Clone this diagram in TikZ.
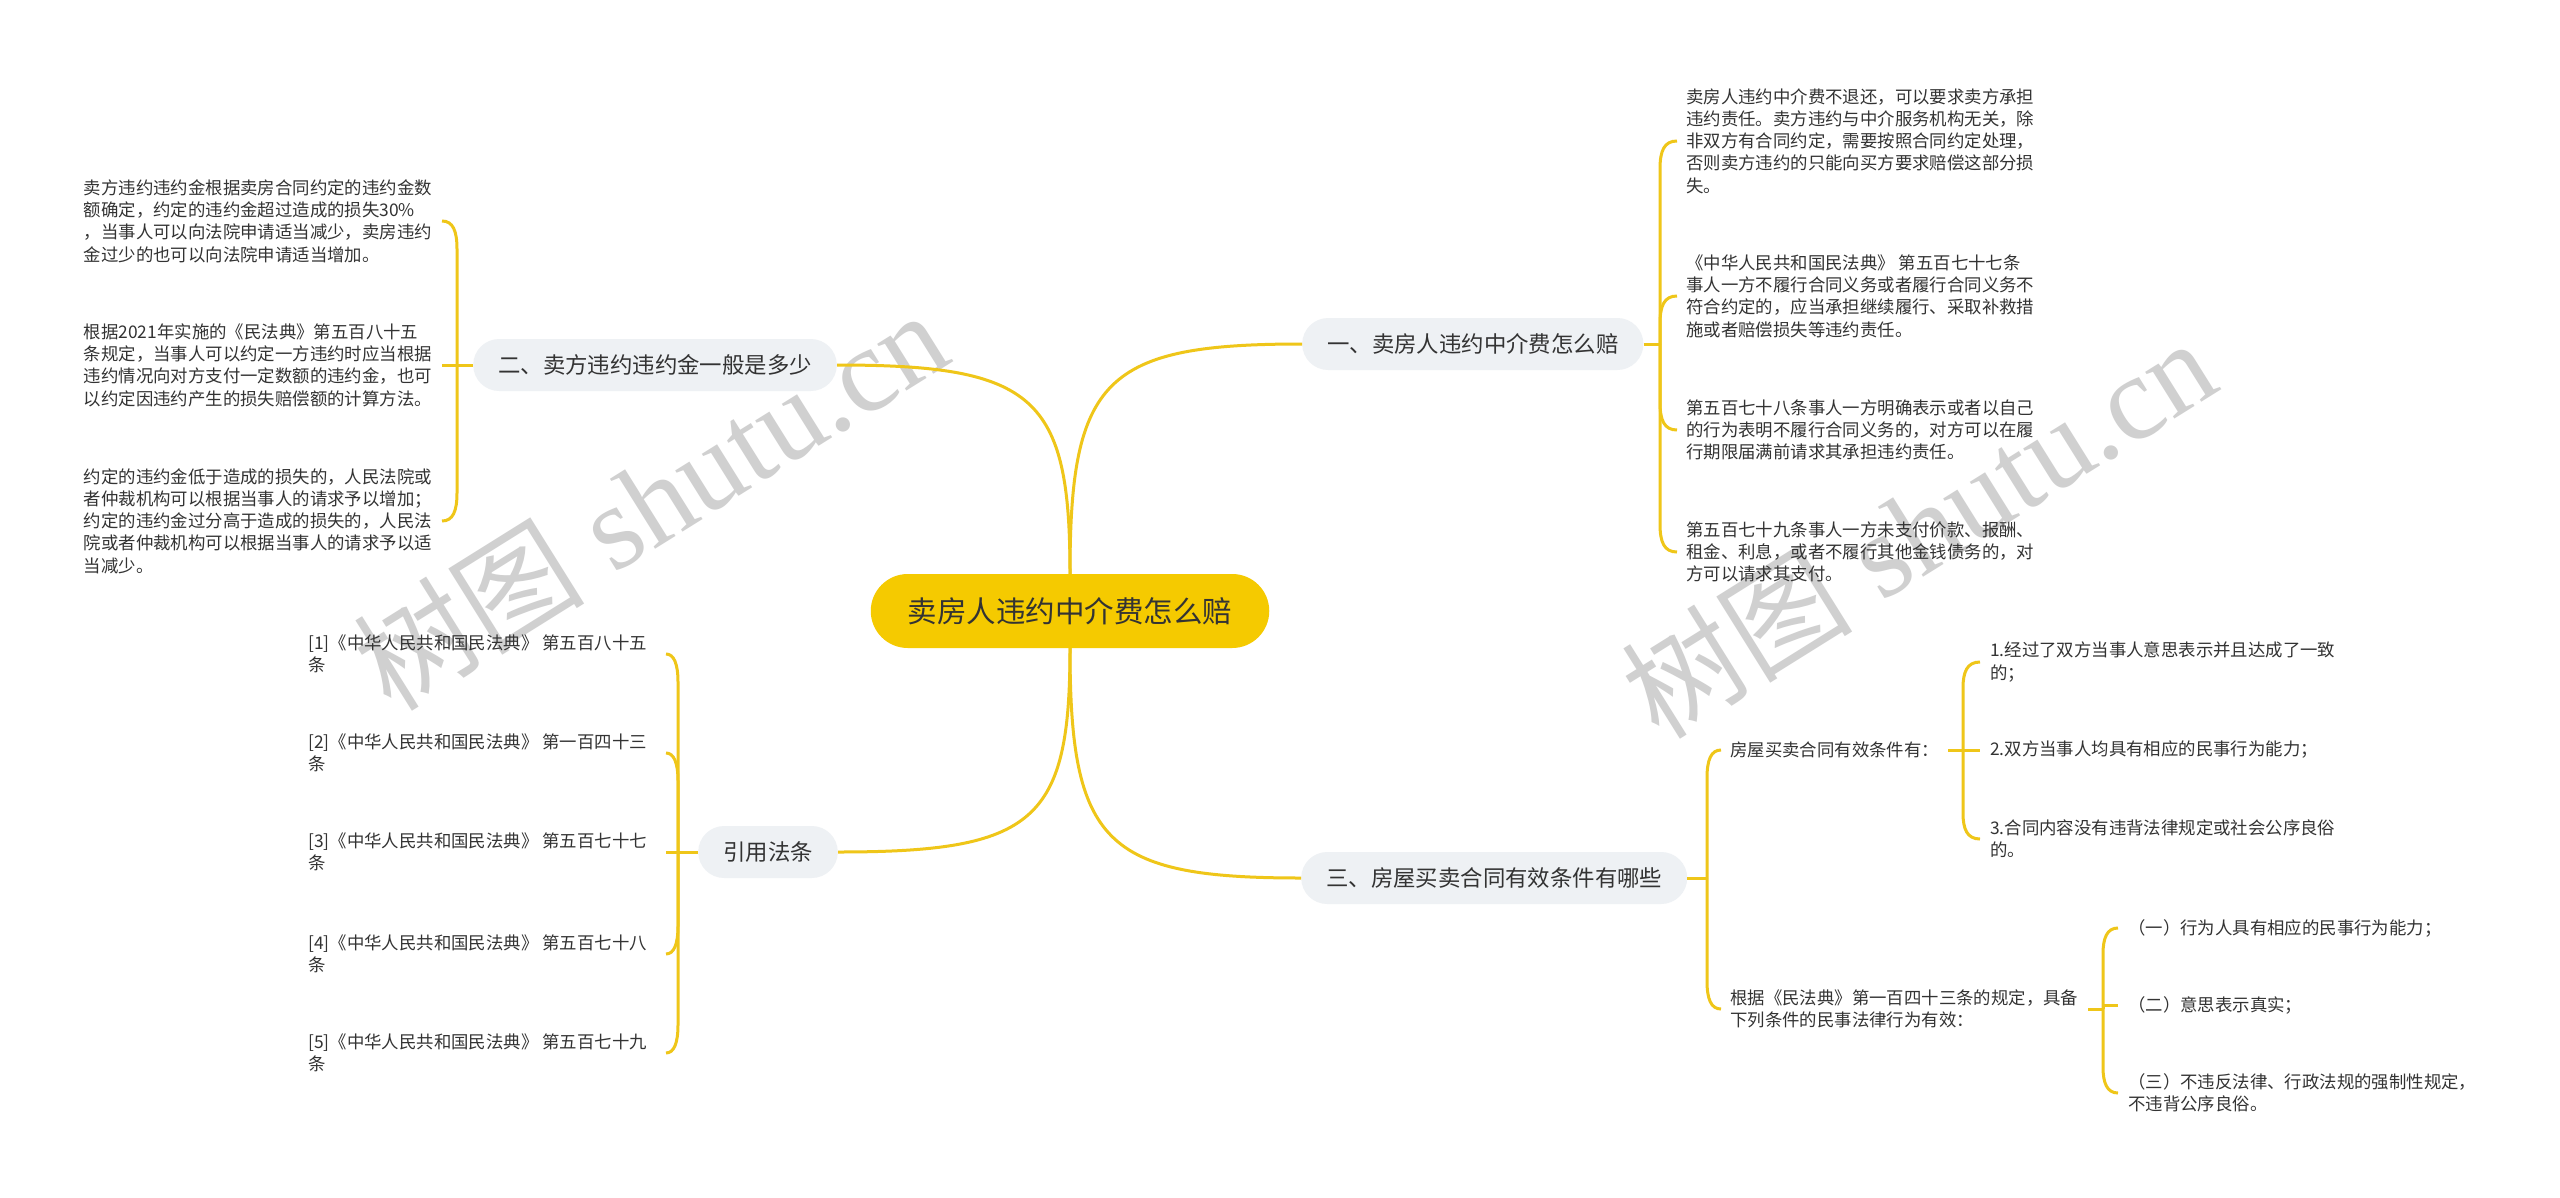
\documentclass[tikz,border=0pt]{standalone}
\usepackage{fontspec}
\setmainfont{Noto Sans CJK SC}
\newfontfamily\cjkf{Noto Sans CJK SC}
\newfontfamily\wmserif{Liberation Serif}
\definecolor{lineY}{HTML}{EFC619}
\definecolor{rootY}{HTML}{F5CA00}
\definecolor{subG}{HTML}{EEF1F4}
\definecolor{txt}{HTML}{333333}
\definecolor{wm}{HTML}{D0D0D0}
\tikzset{
  conn/.style={draw=lineY, line width=3pt},
  leaf/.style={inner sep=0pt, align=left, text=txt, font=\fontsize{17.4}{22.3}\selectfont},
  subnode/.style={fill=subG, rounded corners=26pt, minimum height=52pt, inner xsep=25pt, inner ysep=0pt, text=txt, font=\fontsize{22.4}{26}\selectfont},
  rootnode/.style={fill=rootY, rounded corners=37pt, minimum height=74pt, inner xsep=37pt, inner ysep=0pt, text=txt, font=\fontsize{29.5}{34}\selectfont},
  wmark/.style={rotate=32, text=wm, inner sep=0pt}
}
\begin{document}
\begin{tikzpicture}[x=1pt,y=-1pt]
\useasboundingbox (0,0) rectangle (2560,1197);
\fill[white] (0,0) rectangle (2560,1197);

% watermarks
\node[wmark] (wm1) at (650,500) {{\cjkf\fontsize{116}{116}\selectfont 树图}\hspace{30pt}{\wmserif\fontsize{120}{120}\selectfont shutu.cn}};
\node[wmark] (wm2) at (1918,528) {{\cjkf\fontsize{116}{116}\selectfont 树图}\hspace{30pt}{\wmserif\fontsize{120}{120}\selectfont shutu.cn}};

% root and main branches
\node[rootnode] (root) at (1070,611) {卖房人违约中介费怎么赔};
\node[subnode, anchor=west] (B1) at (1302,344) {一、卖房人违约中介费怎么赔};
\node[subnode, anchor=east] (B2) at (837,365) {二、卖方违约违约金一般是多少};
\node[subnode, anchor=west] (B3) at (1301,878) {三、房屋买卖合同有效条件有哪些};
\node[subnode, anchor=east] (B4) at (838,852) {引用法条};

\draw[conn] (root.north) .. controls (1070,378.5) and (1104.8,344) .. (B1.west);
\draw[conn] (root.north) .. controls (1070,396.4) and (1035,365) .. (B2.east);
\draw[conn] (root.south) .. controls (1070,843.5) and (1104.7,878) .. (B3.west);
\draw[conn] (root.south) .. controls (1070,821.4) and (1035.2,852) .. (B4.east);

% branch 1 leaves
\node[leaf, anchor=west] (c1) at (1686,141) {卖房人违约中介费不退还，可以要求卖方承担\\%
违约责任。卖方违约与中介服务机构无关，除\\%
非双方有合同约定，需要按照合同约定处理，\\%
否则卖方违约的只能向买方要求赔偿这部分损\\%
失。};
\node[leaf, anchor=west] (c2) at (1686,296) {《中华人民共和国民法典》 第五百七十七条\\%
事人一方不履行合同义务或者履行合同义务不\\%
符合约定的，应当承担继续履行、采取补救措\\%
施或者赔偿损失等违约责任。};
\node[leaf, anchor=west] (c3) at (1686,430) {第五百七十八条事人一方明确表示或者以自己\\%
的行为表明不履行合同义务的，对方可以在履\\%
行期限届满前请求其承担违约责任。};
\node[leaf, anchor=west] (c4) at (1686,552) {第五百七十九条事人一方未支付价款、报酬、\\%
租金、利息，或者不履行其他金钱债务的，对\\%
方可以请求其支付。};
\coordinate (s1) at (1660,344);
\draw[conn] (B1.east) -- (s1);
\draw[conn] (s1) -- (1660,169) .. controls (1660,151) and (1664,141) .. ([xshift=-9pt]c1.west);
\draw[conn] (s1) -- (1660,324) .. controls (1660,306) and (1664,296) .. ([xshift=-9pt]c2.west);
\draw[conn] (s1) -- (1660,402) .. controls (1660,420) and (1664,430) .. ([xshift=-9pt]c3.west);
\draw[conn] (s1) -- (1660,524) .. controls (1660,542) and (1664,552) .. ([xshift=-9pt]c4.west);

% branch 2 leaves
\node[leaf, anchor=east] (L1) at (432,221) {卖方违约违约金根据卖房合同约定的违约金数\\%
额确定，约定的违约金超过造成的损失30\%\\%
，当事人可以向法院申请适当减少，卖房违约\\%
金过少的也可以向法院申请适当增加。};
\node[leaf, anchor=east] (L2) at (432,365) {根据2021年实施的《民法典》第五百八十五\\%
条规定，当事人可以约定一方违约时应当根据\\%
违约情况向对方支付一定数额的违约金，也可\\%
以约定因违约产生的损失赔偿额的计算方法。};
\node[leaf, anchor=east] (L3) at (432,521) {约定的违约金低于造成的损失的，人民法院或\\%
者仲裁机构可以根据当事人的请求予以增加；\\%
约定的违约金过分高于造成的损失的，人民法\\%
院或者仲裁机构可以根据当事人的请求予以适\\%
当减少。};
\coordinate (s2) at (457,365);
\draw[conn] (B2.west) -- (s2);
\draw[conn] (s2) -- (457,249) .. controls (457,231) and (453,221) .. ([xshift=10pt]L1.east);
\draw[conn] (s2) -- ([xshift=10pt]L2.east);
\draw[conn] (s2) -- (457,493) .. controls (457,511) and (453,521) .. ([xshift=10pt]L3.east);

% branch 4 leaves
\node[leaf, anchor=east] (R1) at (647,654) {[1]《中华人民共和国民法典》 第五百八十五\\条};
\node[leaf, anchor=east] (R2) at (647,753) {[2]《中华人民共和国民法典》 第一百四十三\\条};
\node[leaf, anchor=east] (R3) at (647,852) {[3]《中华人民共和国民法典》 第五百七十七\\条};
\node[leaf, anchor=east] (R4) at (647,954) {[4]《中华人民共和国民法典》 第五百七十八\\条};
\node[leaf, anchor=east] (R5) at (647,1053) {[5]《中华人民共和国民法典》 第五百七十九\\条};
\coordinate (s4) at (678,852);
\draw[conn] (B4.west) -- (s4);
\draw[conn] (s4) -- (678,682) .. controls (678,664) and (674,654) .. ([xshift=19pt]R1.east);
\draw[conn] (s4) -- (678,781) .. controls (678,763) and (674,753) .. ([xshift=19pt]R2.east);
\draw[conn] (s4) -- ([xshift=19pt]R3.east);
\draw[conn] (s4) -- (678,926) .. controls (678,944) and (674,954) .. ([xshift=19pt]R4.east);
\draw[conn] (s4) -- (678,1025) .. controls (678,1043) and (674,1053) .. ([xshift=19pt]R5.east);

% branch 3 leaves
\node[leaf, anchor=west] (D1) at (1730,750) {房屋买卖合同有效条件有：};
\node[leaf, anchor=west] (D2) at (1730,1009) {根据《民法典》第一百四十三条的规定，具备\\%
下列条件的民事法律行为有效：};
\coordinate (s3) at (1707,878);
\draw[conn] (B3.east) -- (s3);
\draw[conn] (s3) -- (1707,778) .. controls (1707,760) and (1711,750) .. ([xshift=-9pt]D1.west);
\draw[conn] (s3) -- (1707,981) .. controls (1707,999) and (1711,1009) .. ([xshift=-9pt]D2.west);

\node[leaf, anchor=west] (E1) at (1990,662) {1.经过了双方当事人意思表示并且达成了一致\\的；};
\node[leaf, anchor=west] (E2) at (1990,750) {2.双方当事人均具有相应的民事行为能力；};
\node[leaf, anchor=west] (E3) at (1990,839) {3.合同内容没有违背法律规定或社会公序良俗\\的。};
\coordinate (s5) at (1963,750);
\draw[conn] ([xshift=9pt]D1.east) -- (s5);
\draw[conn] (s5) -- (1963,688) .. controls (1963,672) and (1967,662) .. ([xshift=-10pt]E1.west);
\draw[conn] (s5) -- ([xshift=-10pt]E2.west);
\draw[conn] (s5) -- (1963,813) .. controls (1963,829) and (1967,839) .. ([xshift=-10pt]E3.west);

\node[leaf, anchor=west] (F1) at (2128,928) {（一）行为人具有相应的民事行为能力；};
\node[leaf, anchor=west] (F2) at (2128,1005) {（二）意思表示真实；};
\node[leaf, anchor=west] (F3) at (2128,1093) {（三）不违反法律、行政法规的强制性规定，\\不违背公序良俗。};
\coordinate (s6) at (2103,1009);
\draw[conn] ([xshift=10pt]D2.east) -- (s6);
\draw[conn] (s6) -- (2103,954) .. controls (2103,938) and (2107,928) .. ([xshift=-10pt]F1.west);
\draw[conn] (s6) -- (2103,1005) -- ([xshift=-10pt]F2.west);
\draw[conn] (s6) -- (2103,1067) .. controls (2103,1083) and (2107,1093) .. ([xshift=-10pt]F3.west);
\end{tikzpicture}
\end{document}
